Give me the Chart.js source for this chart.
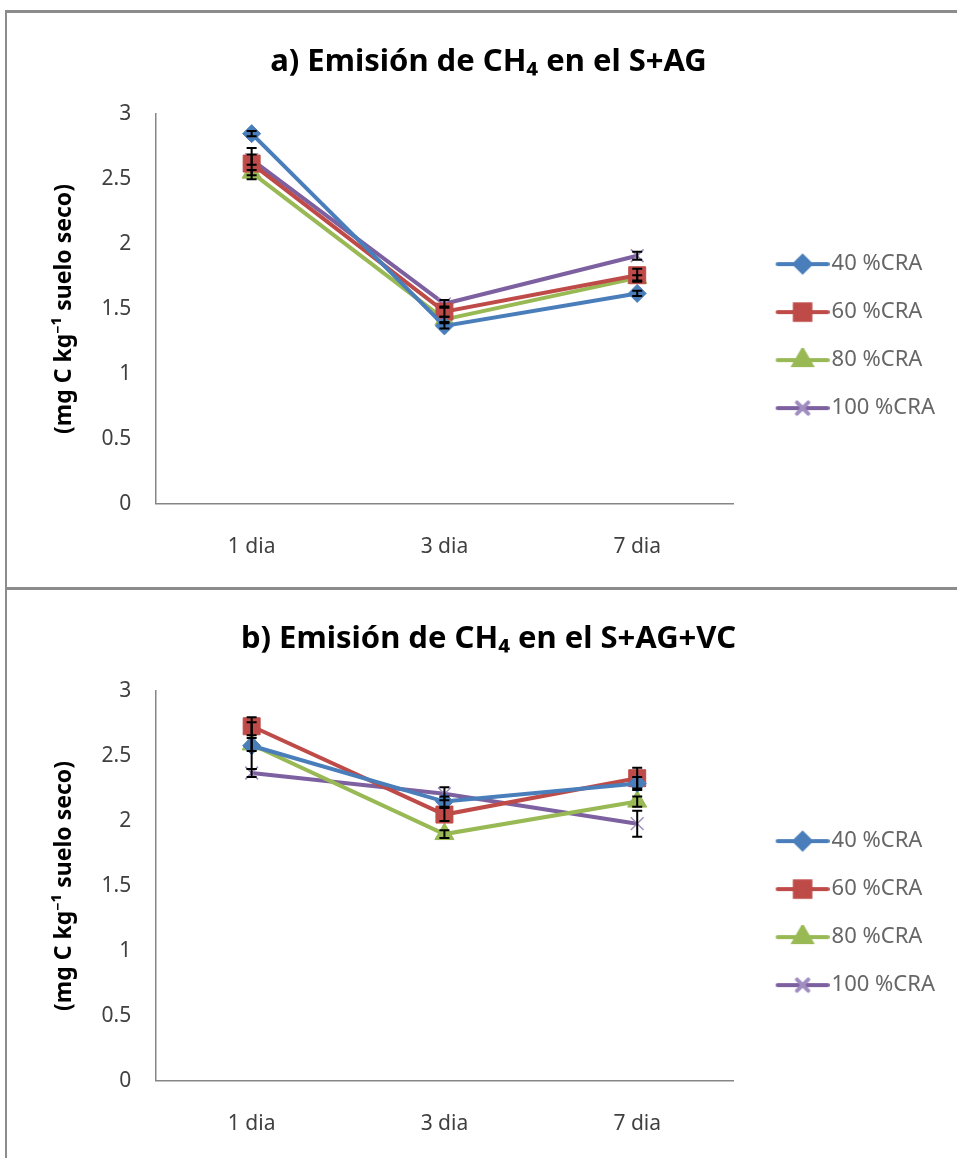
<!DOCTYPE html>
<html>
<head>
<meta charset="utf-8">
<script src="https://cdn.jsdelivr.net/npm/chart.js@4.4.1/dist/chart.umd.min.js"></script>
<style>
html,body{margin:0;padding:0;background:#fff;width:957px;height:1158px;overflow:hidden;}
#frame{position:absolute;left:5px;top:10px;width:960px;height:1160px;border-top:3px solid #8c8c8c;border-left:2px solid #8c8c8c;}
#divider{position:absolute;left:5px;top:587px;width:960px;height:3px;background:#8c8c8c;}
.box{position:absolute;left:0;width:957px;height:574px;}
</style>
</head>
<body>
<div id="frame"></div>
<div id="divider"></div>
<div class="box" style="top:13px"><canvas id="chartA" width="957" height="574"></canvas></div>
<div class="box" style="top:590px"><canvas id="chartB" width="957" height="574"></canvas></div>
<script>
const days=['1 dia','3 dia','7 dia'];
const seriesNames=['40 %CRA','60 %CRA','80 %CRA','100 %CRA'];
const yTicks=[0,0.5,1,1.5,2,2.5,3];

// a) S+AG
const a40=[2.85,1.37,1.62];
const a60=[2.62,1.48,1.76];
const a80=[2.55,1.42,1.74];
const a100=[2.65,1.54,1.91];
const a40err=[0.02,0.02,0.02];
const a60err=[0.12,0.04,0.05];
const a80err=[0.02,0.02,0.02];
const a100err=[0.04,0.03,0.03];

// b) S+AG+VC
const b40=[2.58,2.15,2.29];
const b60=[2.73,2.05,2.33];
const b80=[2.59,1.90,2.15];
const b100=[2.37,2.21,1.98];
const b40err=[0.18,0.04,0.05];
const b60err=[0.07,0.05,0.08];
const b80err=[0.05,0.03,0.04];
const b100err=[0.03,0.05,0.10];

const colors=['#4a7ebb','#be4b48','#98b954','#7d60a0'];
const markers=['rectRot','rect','triangle','crossRot'];
const radii=[9,12,11,9];
const FONT="'Noto Sans', 'Open Sans', sans-serif";

// legend icon: line with marker, drawn a bit right of the legend box centre
function legendIcon(i){
  const c=document.createElement('canvas');
  c.width=79;c.height=24;
  const ctx=c.getContext('2d');
  ctx.strokeStyle=colors[i];ctx.lineWidth=4;ctx.lineCap='round';
  ctx.beginPath();ctx.moveTo(27,12);ctx.lineTo(77,12);ctx.stroke();
  const opts={pointStyle:markers[i],radius:radii[i]-1,rotation:0,borderWidth:i===3?1.5:1};
  ctx.fillStyle=colors[i];
  ctx.strokeStyle=i===3?'#a08ec0':colors[i];
  Chart.helpers.drawPoint(ctx,opts,52,12);
  return c;
}

const errorBars={
  id:'errorBars',
  afterDatasetsDraw(chart){
    const ctx=chart.ctx, y=chart.scales.y;
    ctx.save();
    ctx.strokeStyle='#000';ctx.lineWidth=2;
    chart.data.datasets.forEach((ds,i)=>{
      const meta=chart.getDatasetMeta(i);
      meta.data.forEach((pt,j)=>{
        const e=ds.err[j], v=ds.data[j];
        const y1=y.getPixelForValue(v+e), y2=y.getPixelForValue(v-e);
        ctx.beginPath();
        ctx.moveTo(pt.x,y1);ctx.lineTo(pt.x,y2);
        ctx.moveTo(pt.x-5,y1);ctx.lineTo(pt.x+5,y1);
        ctx.moveTo(pt.x-5,y2);ctx.lineTo(pt.x+5,y2);
        ctx.stroke();
      });
    });
    ctx.restore();
  }
};

function makeChart(id,title,vals,errs){
  const datasets=vals.map((d,i)=>({
    label:seriesNames[i],data:d,err:errs[i],
    borderColor:colors[i],backgroundColor:colors[i],borderWidth:4,tension:0,
    pointStyle:markers[i],pointRadius:radii[i],pointHoverRadius:radii[i],
    pointBorderColor:i===3?'#a08ec0':colors[i],pointBorderWidth:i===3?1.5:1
  }));
  return new Chart(document.getElementById(id),{
    type:'line',
    data:{labels:days,datasets},
    plugins:[errorBars],
    options:{
      responsive:false,animation:false,
      layout:{padding:{left:32,right:12,top:0,bottom:4}},
      plugins:{
        title:{display:true,text:title,color:'#000',font:{family:FONT,size:31,weight:'bold'},padding:{top:31,bottom:33}},
        legend:{position:'right',align:'center',
          title:{display:true,text:' ',font:{size:11},padding:{top:31,bottom:32}},
          labels:{usePointStyle:true,pointStyleWidth:61,padding:26,color:'#222',font:{family:FONT,size:22},
            generateLabels:ch=>ch.data.datasets.map((ds,i)=>({text:ds.label,pointStyle:legendIcon(i),datasetIndex:i,lineWidth:0,fillStyle:'transparent',strokeStyle:'transparent'}))}},
        tooltip:{enabled:false}
      },
      scales:{
        x:{type:'category',offset:true,grid:{display:false},border:{color:'#868686',width:1.5},
          ticks:{color:'#404040',padding:23,font:{family:FONT,size:21}}},
        y:{min:0,max:3,afterBuildTicks:ax=>{ax.ticks=yTicks.map(v=>({value:v}));},grid:{display:false},border:{color:'#868686',width:1.5},
          ticks:{color:'#404040',padding:16,font:{family:FONT,size:21},callback:v=>String(v)},
          title:{display:true,text:'(mg C kg⁻¹ suelo seco)',color:'#000',font:{family:FONT,size:23,weight:'bold'},padding:{top:19,bottom:7}}}
      }
    }
  });
}

makeChart('chartA','a) Emisión de CH₄ en el S+AG',[a40,a60,a80,a100],[a40err,a60err,a80err,a100err]);
makeChart('chartB','b) Emisión de CH₄ en el S+AG+VC',[b40,b60,b80,b100],[b40err,b60err,b80err,b100err]);
</script>
</body>
</html>
